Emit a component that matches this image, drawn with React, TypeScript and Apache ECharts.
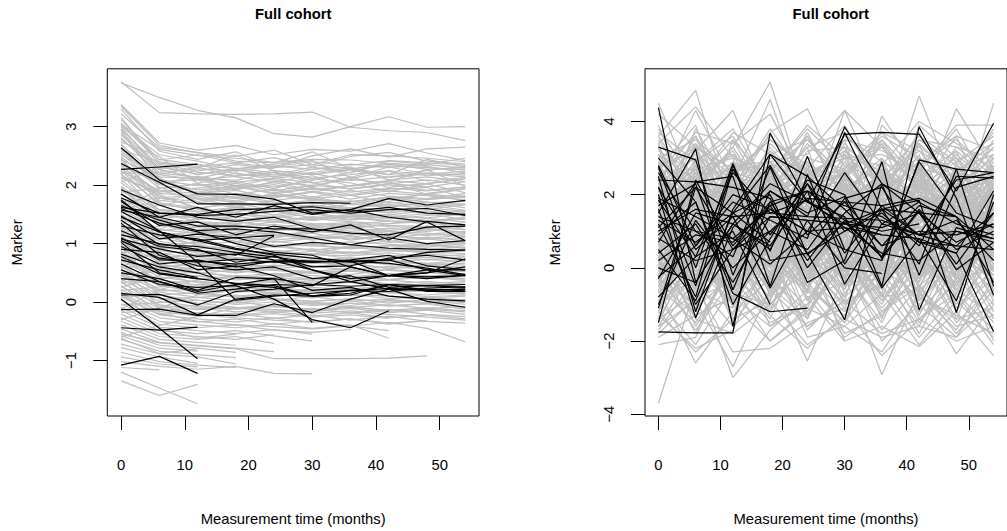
import { useEffect, useRef } from "react";
import * as echarts from "echarts";

// Visit schedule (months since baseline)
const months = [0, 6, 12, 18, 24, 30, 36, 42, 48, 54];

const xTicks = [0, 10, 20, 30, 40, 50];
const leftYTicks = [-1, 0, 1, 2, 3];
const rightYTicks = [-4, -2, 0, 2, 4];

const panelTitle = "Full cohort";
const xName = "Measurement time (months)";
const yName = "Marker";

// Left panel: smooth trajectories, background subjects
const leftGrey: number[][] = [
  [3.77, 3.24, 3.22, 3.21, 3.22, 3.25, 2.99, 2.93, 2.9, 2.76],
  [3.75, 3.5, 3.28, 3.15, 2.88, 2.82, 3.0, 3.17, 2.99, 3.0],
  [3.38, 2.72, 2.6, 2.68, 2.52, 2.61, 2.58, 2.71, 2.55, 2.42],
  [3.3, 2.58, 2.44, 2.57, 2.3, 2.5, 2.62, 2.48, 2.62, 2.65],
  [3.22, 2.64, 2.56, 2.41, 2.38, 2.57, 2.28, 2.36, 2.27, 2.3],
  [3.12, 2.43, 2.52, 2.38, 2.47, 2.31, 2.49, 2.56, 2.41, 2.36],
  [3.06, 2.38, 2.29, 2.52, 2.24, 2.19, 2.27, 2.18, 2.44, 2.31],
  [3.02, 2.52, 2.41, 2.28, 2.36, 2.42, 2.13, 2.31, 2.19, 2.14],
  [2.96, 2.33, 2.18, 2.29, 2.21, 2.08, 2.22, 2.37, 2.32, 2.21],
  [2.91, 2.29, 2.36, 2.19, 2.14, 2.27, 2.31, 2.09, 2.14, 2.06],
  [2.86, 2.26, 2.13, 2.08, 2.22, 2.04, 2.11, 2.24, 2.07, 2.13],
  [2.81, 2.18, 2.31, 2.14, 2.06, 2.16, 1.98, 2.06, 2.26, 1.98],
  [2.74, 2.49, 2.03, 2.21, 2.09, 1.97, 2.14, 1.96, 2.03, 2.11],
  [3.16, 2.36, 2.24, 2.35, 2.28],
  [2.69, 2.14, 2.11, 1.98, 2.12, 2.04, 1.93, 2.01, 1.91, 1.96],
  [2.64, 2.08, 1.99, 2.06, 1.94, 2.11, 2.04, 1.89, 2.02, 1.87],
  [2.58, 2.06, 2.09, 1.94, 2.01, 1.88, 1.99, 2.06, 1.84, 1.93],
  [2.99, 2.27, 2.11, 2.26, 2.17, 2.31, 2.21, 2.41, 2.36, 2.46],
  [3.35, 2.68, 2.55, 2.49, 2.6, 2.35, 2.52, 2.5, 2.46, 2.4],
  [2.54, 2.01, 1.88, 1.99, 1.87, 1.96, 1.84, 1.93, 1.96, 1.79],
  [2.49, 1.94, 2.02, 1.84, 1.93, 1.79, 1.91, 1.81, 1.77, 1.86],
  [3.04, 2.61, 2.51, 2.46, 2.39, 2.44, 2.43, 2.37, 2.34],
  [2.44, 2.12, 1.86, 1.91, 1.78, 1.88, 1.76, 1.86, 1.82, 1.74],
  [2.38, 1.86, 1.81, 1.73, 1.86, 1.77, 1.83, 1.69, 1.76, 1.79],
  [2.33, 1.78, 1.84, 1.79, 1.68, 1.74, 1.71, 1.79, 1.71, 1.67],
  [2.88, 2.21, 2.13, 1.99, 1.97, 2.06],
  [2.29, 1.74, 1.69, 1.82, 1.71, 1.63, 1.73, 1.64, 1.71, 1.61],
  [2.24, 1.91, 1.76, 1.64, 1.69, 1.71, 1.61, 1.67, 1.59, 1.66],
  [2.19, 1.69, 1.61, 1.68, 1.58, 1.62, 1.57, 1.54, 1.66, 1.57],
  [2.14, 1.84, 1.59, 1.54, 1.63, 1.54, 1.61, 1.58, 1.51, 1.56],
  [2.09, 1.58, 1.54, 1.59, 1.49, 1.58, 1.51, 1.49, 1.56, 1.47],
  [2.62, 2.04, 1.71, 1.62, 1.74, 1.81, 1.66, 1.72, 1.86, 1.94],
  [2.04, 1.57, 1.49, 1.47, 1.56, 1.44, 1.49, 1.47, 1.44, 1.51],
  [1.98, 1.54, 1.47, 1.53, 1.44, 1.51, 1.41, 1.46, 1.51, 1.41],
  [2.71, 1.96, 1.78, 1.71, 1.63, 1.52, 1.44, 1.38],
  [1.94, 1.49, 1.44, 1.39, 1.47, 1.39, 1.46, 1.39, 1.37, 1.44],
  [1.89, 1.66, 1.41, 1.46, 1.37, 1.43, 1.37, 1.34, 1.43, 1.37],
  [1.84, 1.41, 1.37, 1.34, 1.41, 1.34, 1.31, 1.39, 1.34, 1.31],
  [1.79, 1.39, 1.31, 1.38, 1.29, 1.33, 1.36, 1.29, 1.27, 1.36],
  [2.42, 1.81, 1.62, 1.51, 1.41, 1.31, 1.27, 1.21, 1.18, 1.12],
  [1.74, 1.36, 1.29, 1.27, 1.33, 1.24, 1.29, 1.31, 1.29, 1.24],
  [1.69, 1.31, 1.24, 1.31, 1.24, 1.29, 1.21, 1.26, 1.21, 1.29],
  [1.64, 1.44, 1.21, 1.19, 1.26, 1.19, 1.26, 1.17, 1.26, 1.19],
  [2.18, 1.52, 1.38, 1.22, 1.16, 1.09, 1.14, 1.02, 1.08, 1.01],
  [1.59, 1.24, 1.17, 1.23, 1.14, 1.21, 1.17, 1.21, 1.14, 1.17],
  [1.54, 1.19, 1.12, 1.08, 1.16, 1.06, 1.12, 1.04, 1.11, 1.05],
  [1.49, 1.14, 1.06, 1.12, 1.02, 1.09, 0.98, 1.04, 0.97, 1.02],
  [1.96, 1.33, 1.16, 1.04, 0.98, 0.96, 0.92, 0.97, 0.91, 0.94],
  [1.44, 1.09, 0.99, 1.03, 0.94, 0.99, 0.91, 0.96, 0.99, 0.92],
  [1.38, 1.04, 0.94, 0.91, 0.97, 0.89, 0.94, 0.88, 0.86, 0.91],
  [1.33, 0.98, 0.91, 0.95, 0.86, 0.91, 0.84, 0.91, 0.84, 0.87],
  [1.74, 1.16, 0.97, 0.89, 0.84, 0.81, 0.86, 0.79, 0.82, 0.78],
  [1.28, 0.94, 0.86, 0.82, 0.88, 0.81, 0.79, 0.84, 0.77, 0.81],
  [1.22, 0.88, 0.81, 0.86, 0.77, 0.83, 0.74, 0.79, 0.76, 0.73],
  [1.17, 0.83, 0.76, 0.72, 0.79, 0.71, 0.76, 0.69, 0.73, 0.69],
  [1.58, 0.97, 0.84, 0.76, 0.69, 0.66, 0.71, 0.64, 0.62],
  [1.12, 0.79, 0.71, 0.76, 0.67, 0.72, 0.64, 0.71, 0.66, 0.63],
  [1.07, 0.74, 0.66, 0.62, 0.69, 0.61, 0.66, 0.58, 0.63, 0.59],
  [1.02, 0.69, 0.61, 0.66, 0.57, 0.62, 0.54, 0.61, 0.56, 0.52],
  [1.42, 0.82, 0.67, 0.58, 0.54, 0.49, 0.53, 0.47, 0.51, 0.44],
  [0.97, 0.64, 0.56, 0.51, 0.58, 0.49, 0.55, 0.48, 0.44, 0.49],
  [0.92, 0.58, 0.49, 0.55, 0.46, 0.52, 0.43, 0.49, 0.41, 0.46],
  [0.86, 0.53, 0.44, 0.41, 0.47, 0.39, 0.44, 0.38, 0.42, 0.37],
  [1.26, 0.66, 0.51, 0.43, 0.38, 0.34, 0.39, 0.31, 0.35, 0.3],
  [0.81, 0.48, 0.39, 0.44, 0.35, 0.41, 0.33, 0.38, 0.32, 0.35],
  [0.76, 0.43, 0.34, 0.31, 0.37, 0.28, 0.34, 0.27, 0.31, 0.26],
  [0.71, 0.38, 0.29, 0.33, 0.25, 0.31, 0.22, 0.28, 0.23, 0.21],
  [1.08, 0.48, 0.33, 0.26, 0.21, 0.18, 0.22, 0.16, 0.19, 0.13],
  [0.66, 0.32, 0.24, 0.21, 0.26, 0.18, 0.23, 0.16, 0.21, 0.14],
  [0.61, 0.28, 0.18, 0.23, 0.14, 0.19, 0.11, 0.17, 0.09, 0.12],
  [0.56, 0.22, 0.13, 0.09, 0.16, 0.07, 0.13, 0.06, 0.08, 0.03],
  [0.88, 0.31, 0.16, 0.08, 0.04, 0.01, 0.06, -0.02, 0.03, -0.04],
  [0.51, 0.17, 0.08, 0.12, 0.03, 0.09, 0.01, 0.05, -0.02, 0.02],
  [0.45, 0.12, 0.03, -0.02, 0.05, -0.04, 0.02, -0.06, -0.03, -0.09],
  [0.39, 0.06, -0.03, 0.01, -0.08, -0.02, -0.09, -0.05, -0.11, -0.08],
  [0.68, 0.12, -0.02, -0.09, -0.13, -0.16, -0.11, -0.18, -0.14, -0.21],
  [0.33, 0.01, -0.08, -0.12, -0.06, -0.14, -0.08, -0.16, -0.12, -0.17],
  [0.27, -0.05, -0.13, -0.09, -0.18, -0.11, -0.19, -0.13, -0.21, -0.25],
  [0.21, -0.11, -0.19, -0.23, -0.16, -0.24, -0.18, -0.27, -0.22, -0.29],
  [0.48, -0.06, -0.21, -0.27, -0.31, -0.34, -0.29, -0.36, -0.32],
  [0.15, -0.16, -0.24, -0.19, -0.28, -0.22, -0.31, -0.24, -0.33, -0.36],
  [0.09, -0.22, -0.29, -0.34, -0.27, -0.35, -0.29, -0.38, -0.32],
  [0.03, -0.27, -0.34, -0.29, -0.38, -0.32, -0.41, -0.35, -0.45, -0.68],
  [0.28, -0.19, -0.33, -0.39, -0.42, -0.46, -0.41, -0.49],
  [-0.03, -0.33, -0.39, -0.44, -0.37, -0.45, -0.39, -0.62],
  [-0.09, -0.38, -0.44, -0.39, -0.48, -0.52, -0.47],
  [-0.15, -0.43, -0.49, -0.54, -0.47, -0.55],
  [-0.21, -0.49, -0.54, -0.49, -0.58, -0.67],
  [-0.27, -0.54, -0.59, -0.64, -0.56],
  [-0.33, -0.59, -0.64, -0.59, -0.71],
  [-0.39, -0.64, -0.69, -0.74],
  [-0.46, -0.69, -0.74, -0.79, -0.85],
  [-0.55, -0.7, -0.75, -0.8, -0.97, -0.97, -0.97, -0.96, -0.92],
  [-0.52, -0.74, -0.79, -0.86],
  [-0.58, -0.79, -0.84],
  [-0.64, -0.84, -0.9, -0.95],
  [-0.72, -0.89, -0.94, -1.06],
  [-0.78, -0.94, -1.05],
  [-0.86, -1.02, -1.08, -1.12],
  [-0.94, -1.06, -1.11],
  [-1.02, -1.1, -1.15, -1.1, -1.22, -1.23],
  [-1.12, -1.16],
  [-1.2, -1.47, -1.74],
  [-1.35, -1.6, -1.41],
  [-0.62, -0.88, -0.8],
  [0.18, -0.45, -0.62, -0.55],
  [0.35, 0.62, 0.81, 0.74, 0.88, 0.82, 0.95, 0.91, 0.87, 0.98],
  [-0.12, 0.21, 0.38, 0.45, 0.41, 0.52, 0.47, 0.56, 0.51, 0.48],
  [0.82, 1.12, 1.05, 1.18, 1.09, 1.22, 1.16, 1.11, 1.24, 1.19],
  [1.25, 1.58, 1.49, 1.62, 1.54, 1.66, 1.59, 1.71, 1.63, 1.68],
  [1.62, 1.91, 1.86, 1.95, 2.04, 1.92, 1.99, 2.08, 2.02, 2.11],
  [2.05, 2.31, 2.19, 2.27, 2.14, 2.22, 2.29, 2.18, 2.25, 2.32],
  [2.52, 2.18, 2.09, 2.15, 2.22, 2.12, 2.18, 2.25, 2.16, 2.2],
  [2.35, 2.02, 2.15, 2.05, 2.11, 2.2, 2.08, 2.14, 2.21, 2.17],
  [2.78, 2.3, 2.22, 2.16, 2.25, 2.18, 2.26, 2.13, 2.19, 2.24],
  [1.88, 1.95, 2.02, 1.92, 2.06, 1.99, 2.1, 2.03, 1.97, 2.06],
  [2.12, 1.88, 1.95, 2.03, 1.9, 2.0, 1.94, 2.02, 2.09, 2.0],
  [2.95, 2.05, 1.92, 1.98, 1.85, 1.94, 1.88, 1.95, 1.9, 1.97],
  [1.71, 1.78, 1.72, 1.86, 1.8, 1.89, 1.82, 1.9, 1.84, 1.8],
  [2.25, 1.65, 1.78, 1.7, 1.83, 1.75, 1.68, 1.77, 1.84, 1.74],
  [1.52, 1.66, 1.6, 1.71, 1.64, 1.58, 1.68, 1.62, 1.7, 1.72],
  [2.46, 1.7, 1.55, 1.62, 1.57, 1.65, 1.6, 1.52, 1.61, 1.55],
  [1.36, 1.48, 1.44, 1.52, 1.46, 1.55, 1.5, 1.42, 1.48, 1.53],
  [1.93, 1.42, 1.5, 1.41, 1.38, 1.46, 1.4, 1.47, 1.36, 1.42],
  [1.18, 1.3, 1.36, 1.29, 1.37, 1.31, 1.25, 1.34, 1.38, 1.3],
  [1.67, 1.22, 1.28, 1.33, 1.22, 1.27, 1.34, 1.22, 1.3, 1.24],
  [0.98, 1.14, 1.2, 1.13, 1.19, 1.12, 1.18, 1.1, 1.16, 1.21],
  [1.5, 1.08, 1.12, 1.04, 1.11, 1.18, 1.06, 1.13, 1.07, 1.1],
  [0.84, 0.98, 1.02, 0.95, 1.04, 0.97, 1.03, 0.99, 0.94, 1.0],
  [1.31, 0.92, 0.97, 0.9, 0.95, 0.88, 0.96, 0.92, 0.98, 0.93],
  [0.7, 0.82, 0.89, 0.84, 0.8, 0.87, 0.82, 0.88, 0.85, 0.83],
  [1.2, 0.76, 0.8, 0.73, 0.81, 0.76, 0.7, 0.78, 0.72, 0.77],
  [0.58, 0.66, 0.72, 0.65, 0.71, 0.68, 0.63, 0.7, 0.66, 0.71],
  [1.05, 0.6, 0.65, 0.58, 0.63, 0.6, 0.66, 0.57, 0.62, 0.58],
  [0.46, 0.53, 0.57, 0.5, 0.56, 0.52, 0.58, 0.54, 0.5, 0.55],
  [0.93, 0.47, 0.51, 0.44, 0.49, 0.45, 0.41, 0.48, 0.45, 0.4],
  [0.33, 0.4, 0.45, 0.38, 0.42, 0.37, 0.43, 0.39, 0.44, 0.39],
  [0.77, 0.33, 0.36, 0.3, 0.34, 0.29, 0.35, 0.31, 0.27, 0.33],
  [0.2, 0.26, 0.3, 0.24, 0.29, 0.25, 0.21, 0.27, 0.3, 0.26],
  [0.62, 0.19, 0.22, 0.17, 0.2, 0.15, 0.2, 0.16, 0.12, 0.17],
  [0.08, 0.12, 0.16, 0.1, 0.14, 0.08, 0.13, 0.1, 0.07, 0.1],
  [0.5, 0.05, 0.08, 0.02, 0.06, 0.01, 0.05, 0.0, 0.04, -0.01],
  [-0.05, -0.01, 0.03, -0.04, 0.0, -0.06, -0.02, -0.07, -0.03, -0.12],
  [0.36, -0.09, -0.06, -0.12, -0.08, -0.13, -0.09, -0.14, -0.1, -0.15],
  [-0.18, -0.14, -0.1, -0.17, -0.13, -0.19, -0.15, -0.21, -0.26, -0.31],
  [0.12, -0.21, -0.18, -0.24, -0.2, -0.26, -0.22, -0.28],
  [2.6, 2.4, 2.32, 2.38, 2.3, 2.35, 2.28, 2.33, 2.3, 2.26],
  [2.2, 2.22, 2.28, 2.24, 2.33, 2.27, 2.36, 2.3, 2.35, 2.29],
  [3.02, 2.44, 2.35, 2.28, 2.32, 2.4, 2.34, 2.42, 2.38, 2.34],
  [1.58, 1.73, 1.84, 1.77, 1.83, 1.76, 1.72, 1.8, 1.75, 1.82],
  [1.1, 1.25, 1.44, 1.4, 1.46, 1.41, 1.47, 1.44, 1.39, 1.45],
  [0.6, 0.9, 1.05, 1.1, 1.06, 1.12, 1.08, 1.14, 1.09, 1.15],
  [0.25, 0.45, 0.62, 0.66, 0.6, 0.68, 0.63, 0.7, 0.64, 0.66],
  [-0.3, -0.1, 0.12, 0.2, 0.16, 0.22, 0.18, 0.24, 0.2, 0.25],
  [-0.6, -0.4, -0.25, -0.1, -0.05, 0.0, -0.06, 0.03, -0.02, 0.05],
];

// Left panel: highlighted subjects
const leftBlack: number[][] = [
  [2.64, 2.09, 1.85, 1.84, 1.76, 1.52, 1.58, 1.77, 1.66, 1.74],
  [2.27, 2.31, 2.36],
  [2.37, 2.05, 1.68, 1.68, 1.67, 1.7, 1.69],
  [1.62, 1.52, 1.5, 1.58, 1.6, 1.63, 1.55, 1.62, 1.52, 1.5],
  [1.57, 1.45, 1.62, 1.45, 1.65, 1.5, 1.58, 1.45, 1.37, 1.05],
  [1.72, 1.31, 1.37, 1.15, 1.3, 1.2, 1.32, 1.06, 1.38, 1.32],
  [1.92, 1.66, 1.45, 1.38, 1.45, 1.25, 1.18, 1.15, 1.28, 1.3],
  [1.47, 1.08, 1.16, 1.1, 1.14],
  [1.4, 0.98, 0.95, 0.85, 0.77, 0.68, 0.7, 0.66, 0.58, 0.47],
  [1.08, 0.91, 0.78, 0.82, 0.72, 0.7, 0.68, 0.72, 0.85, 0.89],
  [0.95, 0.65, 0.72, 0.6, 0.7, 0.55, 0.4, 0.45, 0.5, 0.74],
  [0.65, 0.35, 0.18, 0.3, 0.25, 0.1, 0.2, 0.23, 0.22, 0.19],
  [0.12, 0.13, -0.05, 0.18, 0.22, 0.3, 0.27, 0.3, 0.28, 0.3],
  [-0.13, -0.12, -0.23, -0.23, -0.03, -0.18, 0.05, 0.22, 0.01, -0.09],
  [0.05, -0.45, -0.97],
  [-0.44, -0.48, -0.43],
  [-1.08, -0.93, -1.22],
  [1.05, 0.75, 0.68, 0.03, 0.1, 0.15, 0.2, 0.18, 0.24, 0.26],
  [0.55, 0.3, 0.25, 0.28, 0.05, -0.3, -0.44, -0.15],
  [1.22, 0.95, 0.88, 0.8, 1.13],
  [1.3, 1.15, 1.08, 0.92, 0.8, 0.55, 0.35, 0.45, 0.4, 0.46],
  [0.82, 0.6, 0.5, 0.3, 0.4, -0.35],
  [1.75, 1.2, 1.05, 0.9, 0.82, 0.75, 0.7, 0.72, 0.55, 0.45],
  [1.55, 1.22, 0.68, 0.73, 0.68, 0.69, 0.7, 0.45, 0.5, 0.6],
  [0.78, 0.48, 0.4, 0.32, 0.28, 0.1, 0.12, 0.3, 0.18, 0.18],
  [0.5, 0.4, 0.2, 0.42, 0.4, 0.3, 0.35, 0.22, 0.2, 0.22],
  [1.15, 1.0, 0.9, 0.68, 0.78, 0.6, 0.62, 0.75, 0.8, 0.72],
  [1.65, 1.4, 1.22, 1.25, 1.2, 1.1, 0.98, 0.92, 0.9, 0.89],
  [0.72, 0.55, 0.42],
  [1.35, 0.8, 0.62, 0.55, 0.6, 0.4, 0.45, 0.25, 0.28, 0.25],
  [0.15, 0.08, -0.22, 0.05, 0.12, 0.1, 0.15, 0.3, 0.2, 0.22],
  [1.85, 1.45, 1.3, 1.3, 1.25, 1.25],
  [1.1, 0.72, 0.7, 0.65, 0.7, 0.68, 0.72, 0.8, 0.62, 0.55],
  [0.4, 0.35, 0.15, 0.22, 0.3, 0.28, 0.6, 0.45, 0.55, 0.55],
  [1.6, 1.35, 1.2, 1.0, 0.85, 0.8, 0.6, 0.45, 0.43, 0.45],
  [1.78, 1.52, 1.48, 1.5, 1.55, 1.58, 1.52, 1.58, 1.6, 1.48],
  [0.9, 0.85, 0.55, 0.62, 0.45, 0.2, 0.25, 0.1, 0.05, 0.02],
  [1.02, 0.5, 0.4],
  [1.45, 1.2, 1.05, 1.1, 0.95, 1.02, 0.98, 1.1, 1.0, 1.05],
];

// Right panel: noisy trajectories, background subjects
const rightGrey: number[][] = [
  [4.5, 2.1, 3.3, 5.08, 1.9, 2.6, 3.4, 1.2, 2.7, 3.1],
  [3.6, 4.85, 1.5, 2.9, 3.1, 4.3, 2.0, 2.9, 1.6, 2.4],
  [2.2, 4.3, 2.4, 4.6, 1.7, 1.1, 4.15, 2.6, 3.8, 2.0],
  [1.4, 3.2, 4.3, 1.8, 2.6, 3.0, 1.5, 4.7, 2.1, 3.3],
  [3.0, 1.6, 2.0, 3.7, 4.35, 2.2, 2.7, 1.8, 4.35, 2.7],
  [2.7, 3.9, 0.9, 2.3, 1.4, 4.3, 3.3, 2.2, 1.2, 4.5],
  [0.8, 2.5, 3.1, 1.3, 3.6, 1.9, 0.7, 3.9, 3.0, 1.4],
  [3.9, 1.3, 2.6, 2.9, 0.8, 3.2, 2.5, 1.0, 2.4, 3.8],
  [1.8, 3.6, 1.2, 3.4, 2.4, 0.6, 3.9, 2.9, 3.6, 1.1],
  [2.5, 0.7, 3.5, 1.7, 3.0, 2.7, 1.2, 3.4, 0.9, 2.6],
  [0.2, 2.9, 1.8, 2.6, 0.3, 2.0, 2.9, 0.5, 2.8, 1.7],
  [1.1, 1.9, 0.4, 3.2, 2.1, 3.5, 0.4, 2.3, 1.5, 3.0],
  [3.3, 0.4, 2.2, 0.9, 2.8, 1.3, 2.2, 1.6, 3.2, 0.6],
  [2.0, 2.7, 3.0, 0.3, 1.2, 2.9, 1.7, 3.1, 0.4, 2.3],
  [0.6, 1.1, 1.6, 2.2, 3.3, 0.2, 3.0, 0.8, 2.0, 1.9],
  [1.6, 3.4, -0.2, 1.5, 0.6, 2.4, 1.0, 2.7, 2.5, 0.2],
  [2.9, 0.1, 2.8, 2.5, 1.8, 1.6, -0.1, 1.9, 1.1, 2.8],
  [-0.3, 2.2, 1.0, -0.4, 2.5, 0.8, 2.6, 0.0, 1.8, 1.3],
  [1.3, -0.6, 2.5, 1.1, -0.2, 3.1, 1.4, 2.4, -0.3, 1.6],
  [2.3, 1.7, -0.5, 2.8, 1.5, -0.4, 2.1, 1.3, 2.2, -0.1],
  [0.4, 2.6, 1.4, 0.6, 2.2, 1.1, -0.6, 2.0, 0.7, 2.1],
  [-0.8, 1.0, 2.0, 1.9, -0.7, 2.5, 0.9, -0.4, 2.6, 0.8],
  [1.9, -0.2, 0.7, -0.9, 1.3, 0.4, 2.4, 1.1, 0.1, 2.5],
  [0.9, 2.0, -0.9, 1.2, 0.2, -0.8, 1.3, 2.6, 1.4, -0.6],
  [2.6, 0.5, 1.5, 0.0, 2.0, 1.8, 0.1, -0.2, 2.9, 1.0],
  [-1.2, 1.4, 0.2, 2.1, -0.9, 0.6, 1.9, 0.6, -0.5, 1.8],
  [0.0, -1.1, 1.9, 0.4, 1.0, -1.0, 0.5, 1.7, 0.9, -0.9],
  [1.5, 0.8, -1.3, 1.6, 0.7, 2.2, -0.8, 0.3, 1.6, 0.4],
  [-0.5, 1.8, 0.5, -1.2, 1.7, 0.0, 1.1, -0.9, 0.3, 1.5],
  [1.0, -0.9, 1.1, 0.8, -1.4, 1.4, 0.3, 1.2, -1.1, 0.0],
  [2.1, 0.3, -0.7, 2.4, 0.4, -0.6, 1.6, -0.5, 1.0, 2.2],
  [-1.5, 0.6, 1.3, -0.6, 0.9, 1.0, -1.4, 0.9, -0.8, 0.5],
  [0.7, -1.6, 0.0, 1.0, -0.4, -1.5, 0.8, -1.3, 0.6, -1.2],
  [-0.9, 0.9, -1.5, -0.2, 1.4, 0.3, -0.9, 0.4, -1.4, 0.9],
  [1.2, -0.4, 0.8, -1.6, -1.0, 1.2, -0.3, -1.6, 0.5, -0.4],
  [-1.8, -0.8, -0.4, 0.5, -1.7, -0.7, 0.6, -0.7, -1.7, 0.1],
  [0.3, -1.4, -1.8, -1.0, 0.1, -1.8, -1.3, 0.2, -0.2, -1.5],
  [-1.1, 0.2, -1.0, -2.0, -1.2, 0.1, -2.0, -1.0, -1.9, -0.3],
  [-2.1, -1.9, 0.3, -1.3, -2.2, -1.3, 0.0, -1.8, 0.2, -2.0],
  [-0.6, -2.6, -1.2, -0.3, -2.55, -0.2, -2.92, -0.6, -2.35, -1.0],
  [-1.7, -0.3, -3.0, -1.7, -0.8, -2.0, -1.6, -2.15, -1.2, -2.4],
  [-3.7, -0.5, -2.3, -2.2, -1.5, -1.1, -2.4, -1.4, -2.0, -1.6],
  [-1.3, -2.2, -1.7, 0.4, -1.9, -1.6, -0.7, -2.1, -0.9, -1.9],
  [1.7, 2.4, 0.6, 1.4, 2.7, 0.9, 1.8, 2.3, 0.5, 1.6],
  [0.5, 1.3, 2.3, 0.7, 1.1, 2.6, 0.2, 1.5, 2.3, 0.3],
  [2.4, 0.0, 1.0, 2.7, 0.5, 1.5, 2.7, 0.1, 1.3, 2.4],
  [1.1, 2.8, 0.1, 1.9, 2.9, -0.1, 1.2, 2.5, 1.9, 0.6],
  [-0.2, 1.5, 2.7, -0.5, 1.6, 2.3, 0.5, 1.4, -0.1, 2.0],
  [2.8, 1.1, 0.3, 2.0, 0.0, 1.7, 2.3, -0.3, 1.7, 1.2],
  [0.1, -0.3, 1.7, 2.4, 1.1, -0.3, 1.5, 2.1, 0.8, -0.2],
  [1.4, 2.1, -0.3, 0.2, 2.3, 0.7, -0.4, 0.7, 2.4, 1.4],
  [3.4, 0.8, 1.9, 1.0, -0.3, 2.1, 1.1, 1.9, -0.4, 0.7],
  [0.8, -0.8, 0.8, 1.7, 0.8, 1.3, 2.0, -0.8, 1.2, 2.7],
  [-0.4, 1.6, 2.2, -0.8, 2.6, -0.5, 0.7, 1.0, 2.1, -0.7],
  [2.2, 0.4, -0.8, 1.3, 1.4, 0.5, -0.7, 2.8, 0.2, 1.1],
  [1.2, 3.0, 1.3, 0.1, -0.6, 2.8, 1.7, 0.5, -0.9, 2.2],
  [-1.0, 0.6, 2.6, 2.3, 0.4, -0.9, 2.4, 1.6, 1.1, -0.1],
  [0.3, 2.2, -0.6, 0.5, 1.9, 1.6, -0.2, 0.3, 2.6, 0.9],
  [1.9, -0.1, 0.9, -0.7, 0.9, 0.2, 1.0, -0.5, 0.4, 1.8],
  [2.6, 1.5, 2.4, 1.1, -0.1, 1.1, 2.8, 1.8, 0.0, 0.4],
  [0.9, -0.5, 0.0, 2.9, 1.3, -0.4, 0.3, 2.2, 1.5, 2.6],
  [-0.7, 1.2, 1.5, 0.0, 2.1, 2.4, -0.5, 0.9, 0.6, 1.3],
  [1.6, 2.5, -0.2, 1.6, -0.5, 0.4, 1.9, -0.6, 2.0, -0.4],
  [0.0, 0.9, 2.9, 0.8, 1.2, 2.0, 0.8, 1.5, -0.2, 1.7],
  [2.0, -0.2, 1.2, 2.2, 0.3, -0.2, 1.4, 0.6, 1.4, 0.1],
  [1.3, 1.9, 0.5, -0.3, 1.8, 1.2, -0.3, 2.4, 0.3, 2.3],
  [-0.1, 0.3, 1.8, 1.2, -0.2, 2.7, 1.2, -0.1, 1.7, 0.6],
  [2.9, 1.0, -0.4, 1.9, 2.3, 0.6, 2.2, 1.2, -0.7, 1.5],
  [0.6, 2.7, 1.1, 0.6, 0.6, 1.5, 0.1, 2.9, 1.0, -0.3],
  [1.8, 0.2, 2.1, -0.2, 1.5, 0.0, 1.6, 0.4, 2.2, 1.0],
  [2.3, 1.2, 0.7, 2.5, 0.9, 1.9, 0.5],
  [0.4, -0.7, 1.4, 0.3, 2.2],
  [3.1, 1.8, 2.5, 0.5],
  [-0.3, 1.4, -1.1, 1.0, 0.0, 1.9, -0.6, 1.3],
  [1.5, -1.2, 0.6, -0.9, 1.6, -0.7],
  [2.7, 3.3, 1.4, 2.8, 1.0, 2.6],
  [-1.4, 0.4, -0.9, 1.2, -1.3, 0.2, -1.0, 0.8, -0.6],
  [1.0, 2.3, 3.2, 1.5, 2.4, 3.3, 1.3, 3.4],
  [0.2, -1.8, 0.4, -1.1, 0.5, -2.0],
  [-0.9, -2.1, -0.5, -2.0, -1.1, -1.6, -2.3, -0.8, -1.3, -1.8],
  [-1.6, -0.9, -2.7, -0.6, -1.6, -0.9, -1.8, -1.4, -0.7, -2.1],
  [-1.9, -1.3, -0.8, -1.6, -0.6, -1.9, -1.2, -0.5, -1.6, -1.3],
  [-1.2, -2.3, -1.4, -0.9, -2.1, -1.4, -1.9, -1.6, -1.9, -0.9],
  [3.7, 2.9, 3.8, 2.1, 3.3, 3.7, 2.4, 3.6, 2.9, 3.6],
  [4.2, 3.3, 2.5, 3.5, 2.8, 2.4, 3.7, 3.2, 2.6, 3.4],
  [3.4, 4.4, 3.0, 2.6, 3.9, 3.0, 2.8, 4.0, 3.4, 2.7],
  [2.4, 3.7, 3.4, 4.2, 2.3, 3.5, 3.2, 2.7, 3.9, 3.9],
  [3.8, 2.3, 3.7, 3.1, 3.5, 2.5, 3.6, 3.0, 2.2, 3.0],
  [3.0, 3.5, 2.6, 3.5, 2.7, 3.9, 2.0, 3.5, 3.3, 2.5],
  [1.2, 3.8, 2.0, 2.0, 3.7, 1.8, 3.5, 2.4, 1.8, 3.5],
  [1.2, 0.3, 2.1, 1.5, 0.6, 2.3, 1.0, 0.2, 1.8, 1.4],
  [0.4, 1.9, 0.8, 2.6, 1.3, 0.5, 2.0, 1.7, 0.9, 2.2],
  [2.0, 1.1, -0.2, 1.0, 2.4, 1.6, 0.4, 2.5, 1.3, 0.3],
  [-0.5, 0.8, 1.6, 0.2, 1.0, 2.2, 1.5, 0.0, 2.3, 1.6],
  [1.6, 2.6, 1.0, 1.9, -0.1, 1.0, 2.3, 1.4, 0.5, 1.2],
  [0.9, -0.2, 1.3, 2.3, 1.6, -0.1, 0.8, 2.0, 1.6, 0.1],
  [2.5, 1.4, 2.2, 0.6, 1.1, 1.7, 2.6, 0.6, 1.1, 2.0],
  [0.1, 1.3, 0.4, 1.4, 2.0, 0.9, -0.2, 1.2, 2.1, 0.9],
  [1.4, 0.1, 1.9, 0.0, 0.8, 2.5, 1.3, 1.9, 0.2, 1.5],
  [1.9, 2.3, 0.2, 1.8, 1.5, 0.3, 1.6, -0.4, 1.9, 2.5],
  [-0.2, 1.0, 2.4, 0.9, -0.3, 1.4, 2.1, 0.9, 1.4, 0.4],
  [2.3, 0.5, 1.2, 2.9, 1.9, 1.1, 0.2, 1.6, 2.6, 1.1],
  [0.7, 1.6, -0.5, 0.5, 2.2, 2.6, 1.0, 2.7, 0.5, -0.2],
  [1.1, 2.8, 1.7, 1.4, 0.0, 1.5, 2.5, 0.3, 1.1, 1.9],
  [2.7, 0.9, 0.9, -0.1, 1.4, 0.1, 1.7, 1.3, 2.4, 0.6],
  [0.2, -0.4, 2.2, 1.7, 0.9, 1.9, -0.5, 2.1, 0.7, 1.7],
  [1.5, 1.8, 0.5, 2.6, 1.7, 0.7, 1.2, 0.5, 1.5, 2.9],
  [-0.8, 0.6, 1.1, 0.4, 2.5, 1.2, 0.6, 1.8, -0.6, 1.1],
  [1.8, -0.7, 1.5, 1.1, 0.3, 2.0, 1.9, -0.1, 1.2, 0.2],
  [0.5, 2.0, 0.0, 2.0, 1.1, -0.6, 1.4, 2.3, 0.8, 1.6],
  [2.2, 1.2, 2.7, 0.8, -0.5, 0.9, 0.5, 1.0, 1.9, 2.6],
  [1.0, -0.1, 0.6, 1.5, 1.8, 1.6, 2.2, 0.7, -0.3, 0.8],
  [-0.1, 2.4, 1.4, -0.3, 1.2, 2.4, 0.0, 1.5, 1.3, 2.0],
  [1.3, 0.7, -0.8, 1.3, 2.6, 0.5, 1.1, 2.6, 0.9, -0.5],
  [2.6, 1.6, 1.8, 2.4, 0.5, 1.3, 2.4, 0.2, 2.2, 1.3],
  [0.3, 0.2, 1.0, 0.7, 1.5, -0.2, 0.9, 1.1, 0.3, 1.5],
  [1.7, 2.1, 0.3, 1.2, 0.1, 1.8, -0.4, 1.9, 1.7, 0.4],
  [-0.4, 1.5, 2.5, 2.2, 1.9, 0.7, 1.5, 0.1, 0.6, 2.3],
  [0.8, -0.9, 1.2, -0.5, 0.7, 2.1, 1.8, 1.2, 2.0, 1.0],
  [2.1, 1.0, 0.1, 1.6, 2.1, -0.4, 0.7, 2.2, -0.1, 1.2],
  [1.2, 2.5, 1.6, 0.3, 0.4, 1.6, 2.0, 0.4, 1.5, 0.0],
  [0.0, 0.5, -0.3, 1.9, 1.3, 0.8, -0.8, 1.4, 2.3, 1.8],
  [1.6, -0.3, 2.0, 0.8, -0.7, 2.2, 1.2, -0.7, 0.8, 2.4],
  [2.4, 1.9, 0.7, -0.6, 1.6, 0.0, 2.5, 1.7, 0.0, 0.7],
  [0.6, 1.1, 1.9, 1.0, 0.9, 1.3, -0.2, 0.8, 1.6, -0.4],
  [-0.9, -0.3, 0.3, 1.5, -0.2, 1.0, 0.8, -0.3, 0.4, 1.0],
  [1.0, 1.7, 2.6, 0.1, 1.8, -0.3, 1.6, 2.4, 1.1, 2.1],
  [2.8, 0.0, 1.1, 2.1, 0.7, 1.5, 0.3, 1.0, -0.5, 0.9],
  [0.4, 2.2, -0.1, 0.9, 2.3, 2.0, 1.3, -0.2, 1.7, 1.4],
  [1.4, 0.6, 1.4, 2.7, -0.1, 0.4, 2.7, 1.6, 0.4, -0.3],
  [-0.3, -1.0, 0.5, -0.4, 0.8, -0.8, 0.1, 0.9, -1.0, 0.3],
  [0.5, -0.6, -1.1, 0.7, -0.3, 0.2, -1.1, 0.0, 0.7, -0.8],
  [-1.1, 0.2, -0.2, -1.2, 0.3, -0.5, 0.6, -1.2, -0.1, 0.6],
  [0.2, -1.3, 0.7, 0.0, -1.1, 0.9, -0.4, 0.4, -0.6, -1.3],
  [-0.7, 0.5, -0.9, 0.6, -0.6, -1.3, 0.3, -0.9, 0.9, -0.2],
  [0.9, -0.2, 0.2, -0.8, 0.5, -0.1, -1.5, 0.6, -1.2, 0.4],
  [-1.4, -0.7, 0.9, -0.5, -1.4, 0.6, -0.8, -0.6, 0.2, -1.0],
  [0.0, 0.7, -1.4, 0.3, 0.2, -1.1, 0.9, -1.4, -0.4, 0.7],
  [-0.5, -1.5, 0.0, -1.4, 0.9, -0.4, -0.3, 0.3, -1.5, -0.5],
  [0.6, 0.1, -0.6, 1.0, -0.9, 0.4, -1.2, -0.2, 0.5, -1.4],
  [-1.0, -0.4, -1.6, -0.7, -0.2, -1.2, 0.2, -1.5, -0.3, 0.0],
  [-0.2, -1.7, -0.3, -1.5, -1.0, 0.0, -1.7, -0.5, -1.8, -0.6],
  [-1.6, 0.0, -1.0, -0.1, -1.6, -0.9, -0.5, -1.9, -0.7, -1.7],
  [2.9, 2.2, 3.3, 1.7, 2.9, 2.1, 3.0, 1.8, 3.1, 2.2],
  [2.1, 3.1, 2.0, 3.2, 1.8, 3.4, 2.3, 3.2, 2.0, 3.1],
  [3.5, 1.9, 2.9, 2.4, 3.6, 1.9, 2.5, 3.3, 2.6, 1.9],
  [1.8, 2.9, 3.6, 2.0, 2.5, 3.2, 1.8, 2.8, 3.5, 2.6],
  [3.2, 2.6, 1.7, 3.3, 2.1, 2.6, 3.5, 2.0, 2.4, 3.3],
  [2.5, 3.4, 2.3, 1.9, 3.4, 2.4, 2.1, 3.7, 1.9, 2.8],
  [3.6, 2.0, 2.8, 2.9, 2.2, 3.6, 2.9, 2.4, 3.0, 2.1],
  [2.0, 2.8, 2.5, 3.6, 2.6, 1.9, 3.4, 2.1, 3.6, 3.2],
  [2.7, 3.6, 1.9, 2.6, 3.8, 2.8, 2.4, 3.0, 2.5, 3.7],
  [1.6, 2.4, 3.1, 2.2, 1.9, 3.0, 3.1, 2.6, 2.1, 2.4],
  [3.3, 1.7, 2.4, 3.0, 2.7, 2.2, 1.7, 3.5, 2.8, 2.0],
  [2.2, 3.3, 2.7, 1.6, 3.2, 3.3, 2.6, 1.9, 3.3, 3.0],
  [0.9, 2.1, 1.1, 0.1, 2.2, 1.4, 0.6, 2.0, 1.2, 0.7],
  [1.8, 0.4, 0.2, 2.0, 0.6, 2.5, 1.5, 0.4, 2.5, 1.0],
  [-0.6, 1.2, 2.0, 1.1, 1.4, 0.3, 2.6, 1.1, 0.0, 1.9],
  [2.3, 2.0, 0.9, 0.5, 2.5, 1.2, -0.1, 2.0, 1.4, 0.6],
  [0.3, 0.7, 2.4, 1.4, -0.4, 1.8, 1.1, 0.4, 1.9, 2.5],
  [1.5, -0.5, 1.0, 2.5, 1.0, 0.6, 2.1, 2.9, 0.1, 1.4],
  [2.6, 1.7, -0.1, 1.5, 2.3, 2.2, 0.9, 1.3, 2.0, 0.3],
  [0.0, 2.6, 1.5, -0.2, 0.5, 1.7, 1.9, -0.3, 1.0, 2.1],
  [1.1, 0.2, 2.3, 1.8, 1.6, -0.5, 0.6, 1.8, 2.7, 1.5],
  [1.7, 1.3, 0.4, 2.8, 0.2, 1.0, 2.4, 0.8, -0.2, 1.8],
  [-0.2, 1.8, 1.7, 0.0, 2.0, 2.2, 0.3, 2.4, 1.2, 0.5],
  [2.0, 0.6, 1.1, 1.9, 0.9, 0.2, 1.7, -0.1, 2.3, 2.0],
  [0.7, 2.3, -0.4, 1.2, 1.7, 2.7, -0.1, 1.3, 0.9, 1.6],
  [1.3, -0.3, 1.8, 0.3, 2.4, 0.9, 2.2, 1.5, 0.4, 2.7],
  [2.4, 1.5, 0.8, 2.1, -0.2, 1.5, 1.0, 2.7, 1.8, 0.2],
  [0.5, 1.0, 2.8, 0.6, 1.3, -0.3, 1.6, 0.2, 2.1, 1.3],
  [1.9, 2.7, 0.6, 1.7, 0.8, 2.0, -0.5, 1.7, 0.6, 2.2],
  [-0.5, 0.4, 1.3, 2.3, 1.5, 1.2, 1.4, 2.2, 1.7, -0.1],
  [1.2, 1.9, -0.6, 0.9, 2.7, 0.5, 2.0, 0.1, 1.4, 1.1],
  [2.7, 0.1, 1.6, 1.3, 0.4, 2.3, 0.7, 1.6, -0.3, 1.7],
  [0.1, 1.4, 2.1, -0.4, 1.1, 1.8, 2.6, 0.6, 2.4, 0.8],
  [1.6, 0.9, 0.3, 2.2, 1.9, -0.1, 1.3, 2.5, 1.0, 2.3],
  [-0.8, -0.2, 0.7, -0.6, 0.4, 0.6, -0.9, 0.2, -0.4, 0.8],
  [0.3, -1.1, -0.2, 0.5, -0.8, -0.4, 0.4, -1.0, 0.3, -0.6],
  [-1.2, 0.4, -0.7, -1.0, 0.1, -1.0, -0.4, 0.5, -1.1, -0.3],
  [0.7, -0.5, 0.6, -0.3, -1.2, 0.3, -1.3, -0.2, 0.1, 0.5],
  [-0.4, -1.3, -0.8, 0.2, -0.5, -1.5, 0.0, -0.8, -1.4, -1.1],
  [2.8, 3.2, 2.1, 2.7, 3.5, 2.5, 3.3, 2.2, 2.9, 3.4],
  [3.1, 2.4, 3.5, 2.3, 2.6, 3.1, 2.2, 3.4, 2.4, 2.6],
  [2.3, 3.0, 2.2, 3.8, 2.4, 2.7, 3.7, 2.5, 3.2, 2.3],
];

// Right panel: highlighted subjects
const rightBlack: number[][] = [
  [4.38, -0.4, 1.2, 0.6, 2.1, 1.3, 0.3, 1.6, 0.5, 1.0],
  [-1.75, -1.78, -1.78, 3.68, 1.8, 1.2, 1.6, 0.9, 2.4, 2.6],
  [3.3, 2.95, -0.2, 2.1, 1.4, 3.85, 2.3, -0.2, 2.2, 2.5],
  [2.75, 0.0, 2.85, 0.45, 3.05, 0.5, 0.2, 2.95, 2.7, -0.5],
  [1.5, 3.25, -1.6, 3.1, 1.8, 3.65, 3.7, 3.65, 2.1, 3.95],
  [0.7, 2.35, 2.5, -0.5, 2.55, 0.1, 1.6, 1.85, -1.22, 2.0],
  [-1.5, 2.4, 0.6, 1.8, 0.4, -1.42, 2.3, 1.5, 0.1, 1.5],
  [2.0, -1.37, 1.1, 2.1, 1.5, 1.95, -0.5, 3.85, 1.9, -0.75],
  [1.6, -1.0, 0.5, 1.4, 1.3, 1.2, 1.1, 1.5, 0.7, 1.2],
  [0.9, 1.8, -0.7, -1.2, -1.1],
  [2.4, 2.35, 2.2, 1.9, -0.4, 0.2, 2.9, -1.15, 1.1, 0.8],
  [-0.25, 0.6, 1.8, 1.3, 0.8, 3.7, 1.6, 1.5, 1.4, 0.5],
  [1.2, -0.8, 2.7, 0.9, 2.3, 1.0, 1.5, 0.6, 2.5, 2.45],
  [2.6, 1.0, 0.3, 2.75, 0.35, 1.25, 0.3, 2.9, 1.5, 1.1],
  [0.2, 0.9, 0.7, 1.7, 2.1, -0.45, 1.2, 1.8],
  [1.85, 0.3, 2.6, 1.5, 1.85, 1.1, 0.9, 0.8, -0.9, 1.8],
  [-1.0, 1.3, 0.0, 1.0, 0.5, 1.9, 2.2, 0.7, 0.4, -1.75],
  [3.0, 1.8, -1.0, 0.8, 2.4, 2.0, 0.25, 1.55, -0.05, 0.7],
  [0.5, -0.9, 1.5, 2.0, 0.0, 1.3, 1.0, 1.2],
  [1.1, 2.2, 1.5, 0.7],
  [2.2, 0.5, 1.4, -0.55, 1.3, 0.0, -0.15],
  [1.4, 1.0, 0.8, 1.6, 1.0, 2.6, 1.2, 0.9, 1.0, 0.8],
  [-0.3, 1.5, 1.2, 2.3, 1.8, 1.4, -0.55, 0.8, 0.4, 2.1],
  [0.8, 0.2, 0.5, 1.7, 0.2, 1.5, 2.3, 1.8, 1.2, 0.9],
  [1.7, 2.3, -0.6, 1.8, 2.1, 1.7, 1.4, 0.7, 0.6, 0.5],
  [2.2, -0.5, 2.8, 0.2, 0.4, 1.0, 1.6, 0.1, 2.7, 2.6],
  [1.3, 0.7, 1.5, 2.8, 0.9, 1.8, 0.6, 1.7, 1.4, -0.4],
  [0.4, 1.2, -0.4, 1.4, 1.3, 1.2, 0.9],
  [2.8, 0.6, 2.0, 1.6, 1.0, 0.5],
  [-0.8, 0.3, 1.0, -1.0],
  [1.0, 1.6, 1.4, 1.5, 1.4, 1.35, 1.3, 0.9, 0.6, 1.5],
  [0.0, -0.4, 1.2, 0.5, 2.3, 0.4, 1.7, 0.9, 1.3, 0.2],
  [1.9, 1.4, 0.8, 0.1, 1.0, 1.1, 0.4, 0.2, 1.0, 0.7],
  [-1.1, 2.2, 0.5, 1.0, 1.9, 1.8, 1.7, 1.9, 1.4],
  [2.5, -1.2, 1.6, 3.1, 2.5, 1.6, 0.6, 1.0, 0.9, 1.2],
];

const FONT = '"Liberation Sans", Arial, Helvetica, sans-serif';
const GREY = "#bebebe";
const BLACK = "#000000";

function trajectories(rows: number[][], color: string, panel: number, tag: string, width: number) {
  return rows.map((row, k) => ({
    type: "line",
    name: `${tag}-${k}`,
    xAxisIndex: panel,
    yAxisIndex: panel,
    data: row.map((v, i) => [months[i], v]),
    symbol: "none",
    showSymbol: false,
    silent: true,
    lineStyle: { color, width },
    emphasis: { disabled: true },
  }));
}

const minusSign = (v: number) => String(v).replace("-", "\u2212");

function xAxis(gridIndex: number) {
  return {
    type: "value",
    gridIndex,
    min: -2.16,
    max: 56.16,
    axisLine: { show: false, onZero: false },
    splitLine: { show: false },
    axisTick: { show: true, customValues: xTicks, length: 14, lineStyle: { color: BLACK, width: 1 } },
    axisLabel: { customValues: xTicks, fontSize: 14.8, color: BLACK, fontFamily: FONT, margin: 41 },
    name: xName,
    nameLocation: "middle",
    nameGap: 95,
    nameTextStyle: { fontSize: 14.8, color: BLACK, fontFamily: FONT },
  };
}

function yAxis(gridIndex: number, min: number, max: number, ticks: number[]) {
  return {
    type: "value",
    gridIndex,
    min,
    max,
    axisLine: { show: false, onZero: false },
    splitLine: { show: false },
    axisTick: { show: true, customValues: ticks, length: 14, lineStyle: { color: BLACK, width: 1 } },
    axisLabel: {
      customValues: ticks,
      rotate: 90,
      fontSize: 14.8,
      color: BLACK,
      fontFamily: FONT,
      margin: 29,
      formatter: (v: number) => minusSign(v),
    },
    name: yName,
    nameLocation: "middle",
    nameGap: 83,
    nameTextStyle: { fontSize: 14.8, color: BLACK, fontFamily: FONT },
  };
}

export default function App() {
  const ref = useRef<HTMLDivElement>(null);

  useEffect(() => {
    if (!ref.current) return;
    const chart = echarts.init(ref.current, undefined, { renderer: "svg" });
    const gridBase = {
      show: true,
      borderColor: BLACK,
      borderWidth: 1,
      backgroundColor: "transparent",
      top: 68.8,
      width: 371.7,
      height: 356.9,
    };
    const titleStyle = {
      text: panelTitle,
      fontSize: 14.8,
      fontWeight: "bold",
      fontFamily: FONT,
      fill: BLACK,
      textAlign: "center",
      textVerticalAlign: "middle",
    };
    chart.setOption({
      animation: false,
      backgroundColor: "#ffffff",
      grid: [
        { ...gridBase, left: 107.3 },
        { ...gridBase, left: 645 },
      ],
      xAxis: [xAxis(0), xAxis(1)],
      yAxis: [yAxis(0, -1.95, 3.99, leftYTicks), yAxis(1, -4.05, 5.44, rightYTicks)],
      graphic: [
        { type: "text", x: 293.2, y: 14, style: titleStyle },
        { type: "text", x: 830.8, y: 14, style: titleStyle },
      ],
      series: [
        ...trajectories(leftGrey, GREY, 0, "lg", 1.2),
        ...trajectories(rightGrey, GREY, 1, "rg", 1.25),
        ...trajectories(leftBlack, BLACK, 0, "lb", 1.2),
        ...trajectories(rightBlack, BLACK, 1, "rb", 1.2),
      ],
    });
    return () => chart.dispose();
  }, []);

  return (
    <div
      ref={ref}
      style={{ position: "absolute", left: 0, top: 0, width: 1007, height: 531, overflow: "hidden", background: "#fff" }}
    />
  );
}
